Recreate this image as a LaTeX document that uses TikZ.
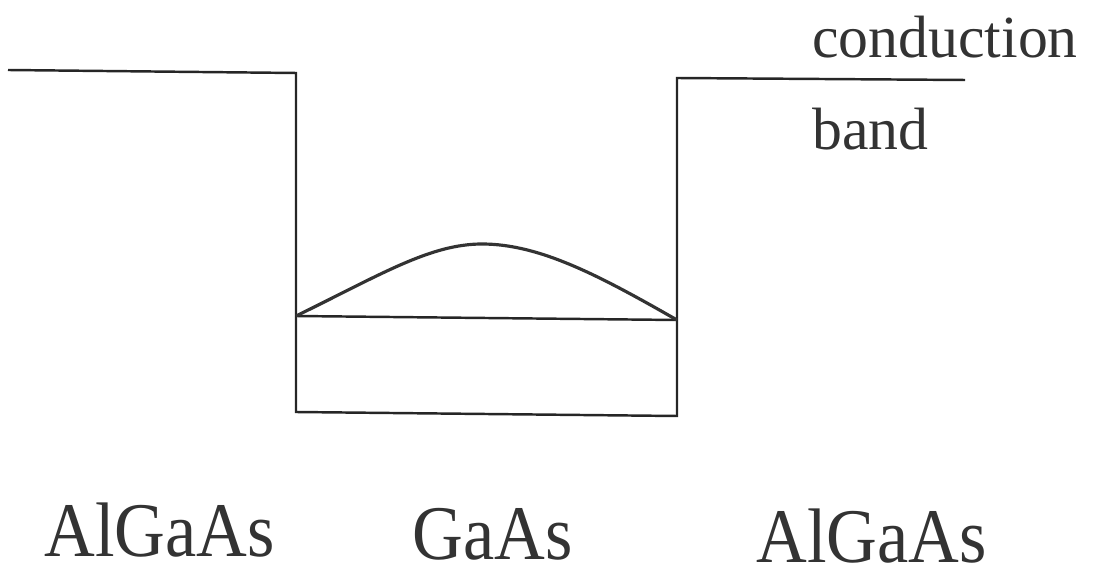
\documentclass[tikz,border=0pt]{standalone}
\usepackage{fontspec}
\setmainfont{Liberation Serif}
\usepackage{tikz}
\usetikzlibrary{positioning}

\begin{document}
\begin{tikzpicture}[
  x=0.02cm, y=0.02cm,
  band/.style={line width=1.4pt, draw=black!85},
  wave/.style={line width=1.8pt, draw=black!80},
  lbl/.style={anchor=base west, inner sep=0pt, text=black!80, font=\fontsize{34}{40}\selectfont},
  mat/.style={anchor=base west, inner sep=0pt, text=black!80, yscale=1.1, font=\fontsize{40}{46}\selectfont}
]
  \useasboundingbox (0,0) rectangle (1097,571);

  % band edge corners
  \coordinate (lout) at (8,501);
  \coordinate (ltop) at (296,498);
  \coordinate (lbot) at (296,159);
  \coordinate (rbot) at (677,155);
  \coordinate (rtop) at (677,493);
  \coordinate (rout) at (965,491);
  \coordinate (lev1) at (296,255);
  \coordinate (lev2) at (677,251);
  \coordinate (peak) at (482,327);

  \draw[band] (lout) -- (ltop) -- (lbot) -- (rbot) -- (rtop) -- (rout);
  \draw[band] (lev1) -- (lev2);
  \draw[wave] (lev1) .. controls (380,296) and (430,327) .. (peak)
              .. controls (540,327) and (600,295) .. (lev2);

  \node[lbl] (cond) at (812,513) {conduction};
  \node[lbl] (bnd) at (812,421) {band};

  \node[mat] (barl) at (44,15) {AlGaAs};
  \node[mat] (well) at (412,12) {GaAs};
  \node[mat] (barr) at (756,9) {AlGaAs};
\end{tikzpicture}
\end{document}
